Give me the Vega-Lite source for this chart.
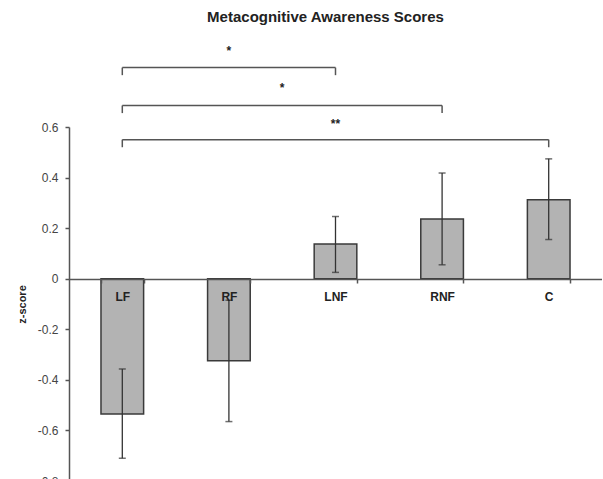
{
  "$schema": "https://vega.github.io/schema/vega-lite/v6.json",
  "width": 533,
  "height": 354,
  "padding": {"left": 16, "top": 10, "right": 0, "bottom": 0},
  "background": "white",
  "title": {
    "text": "Metacognitive Awareness Scores",
    "font": "Liberation Sans",
    "fontSize": 15,
    "fontWeight": "bold",
    "color": "#222",
    "anchor": "middle",
    "dx": -10,
    "offset": 20
  },
  "config": {
    "view": {"stroke": null},
    "font": "Liberation Sans"
  },
  "datasets": {
    "bars": [
      {"group": "LF", "mean": -0.535, "lo": -0.71, "hi": -0.357},
      {"group": "RF", "mean": -0.324, "lo": -0.565, "hi": -0.085},
      {"group": "LNF", "mean": 0.137, "lo": 0.025, "hi": 0.246},
      {"group": "RNF", "mean": 0.236, "lo": 0.055, "hi": 0.418},
      {"group": "C", "mean": 0.312, "lo": 0.155, "hi": 0.474}
    ],
    "brackets": [
      {"from": "LF", "to": "LNF", "mid": "RF", "y": 0.835, "yend": 0.805, "ystar": 0.9, "label": "*"},
      {"from": "LF", "to": "RNF", "mid": "RF", "y": 0.685, "yend": 0.655, "ystar": 0.755, "label": "*"},
      {"from": "LF", "to": "C", "mid": "LNF", "y": 0.55, "yend": 0.52, "ystar": 0.61, "label": "**"}
    ]
  },
  "layer": [
    {
      "data": {"name": "bars"},
      "mark": {"type": "bar", "fill": "#b3b3b3", "stroke": "#3a3a3a", "strokeWidth": 1.5, "clip": false},
      "encoding": {
        "x": {
          "field": "group", "type": "nominal",
          "scale": {"domain": ["LF", "RF", "LNF", "RNF", "C"], "paddingInner": 0.6, "paddingOuter": 0.3},
          "axis": {
            "orient": "bottom", "offset": -202, "title": null, "labelAngle": 0, "zindex": 1,
            "tickBand": "extent", "tickSize": 4, "tickColor": "#555", "tickWidth": 1.5,
            "domainColor": "#555", "domainWidth": 1.5,
            "labelFont": "Liberation Sans", "labelFontSize": 12, "labelFontWeight": "bold",
            "labelColor": "#222", "labelPadding": 8
          }
        },
        "y": {
          "field": "mean", "type": "quantitative",
          "scale": {"domain": [-0.8, 0.6], "nice": false, "zero": false},
          "axis": {
            "values": [-0.8, -0.6, -0.4, -0.2, 0, 0.2, 0.4, 0.6],
            "labelExpr": "'' + datum.value",
            "grid": false, "title": "z-score",
            "titleFont": "Liberation Sans", "titleFontSize": 11, "titleFontWeight": "bold",
            "titleColor": "#222", "titlePadding": 10,
            "labelFont": "Liberation Sans", "labelFontSize": 12, "labelColor": "#444",
            "tickSize": 4, "tickColor": "#555", "tickWidth": 1.5,
            "domainColor": "#555", "domainWidth": 1.5, "labelPadding": 7
          }
        }
      }
    },
    {
      "data": {"name": "bars"},
      "mark": {"type": "rule", "color": "#333", "strokeWidth": 1.3},
      "encoding": {
        "x": {"field": "group", "type": "nominal"},
        "y": {"field": "lo", "type": "quantitative"},
        "y2": {"field": "hi"}
      }
    },
    {
      "data": {"name": "bars"},
      "mark": {"type": "tick", "color": "#333", "size": 7, "thickness": 1.5},
      "encoding": {
        "x": {"field": "group", "type": "nominal"},
        "y": {"field": "lo", "type": "quantitative"}
      }
    },
    {
      "data": {"name": "bars"},
      "mark": {"type": "tick", "color": "#333", "size": 7, "thickness": 1.5},
      "encoding": {
        "x": {"field": "group", "type": "nominal"},
        "y": {"field": "hi", "type": "quantitative"}
      }
    },
    {
      "data": {"name": "brackets"},
      "mark": {"type": "rule", "color": "#555", "strokeWidth": 1.5, "clip": false},
      "encoding": {
        "x": {"field": "from", "type": "nominal"},
        "x2": {"field": "to"},
        "y": {"field": "y", "type": "quantitative"}
      }
    },
    {
      "data": {"name": "brackets"},
      "mark": {"type": "rule", "color": "#555", "strokeWidth": 1.5, "clip": false},
      "encoding": {
        "x": {"field": "from", "type": "nominal"},
        "y": {"field": "y", "type": "quantitative"},
        "y2": {"field": "yend"}
      }
    },
    {
      "data": {"name": "brackets"},
      "mark": {"type": "rule", "color": "#555", "strokeWidth": 1.5, "clip": false},
      "encoding": {
        "x": {"field": "to", "type": "nominal"},
        "y": {"field": "y", "type": "quantitative"},
        "y2": {"field": "yend"}
      }
    },
    {
      "data": {"name": "brackets"},
      "transform": [{"filter": "datum.to != 'RNF'"}],
      "mark": {"type": "text", "font": "Liberation Sans", "fontSize": 12, "fontWeight": "bold", "color": "#222", "baseline": "middle", "clip": false},
      "encoding": {
        "x": {"field": "mid", "type": "nominal", "bandPosition": 0.5},
        "y": {"field": "ystar", "type": "quantitative"},
        "text": {"field": "label"}
      }
    },
    {
      "data": {"name": "brackets"},
      "transform": [{"filter": "datum.to == 'RNF'"}],
      "mark": {"type": "text", "font": "Liberation Sans", "fontSize": 12, "fontWeight": "bold", "color": "#222", "baseline": "middle", "clip": false},
      "encoding": {
        "x": {"field": "mid", "type": "nominal", "bandPosition": 1.75},
        "y": {"field": "ystar", "type": "quantitative"},
        "text": {"field": "label"}
      }
    }
  ]
}
